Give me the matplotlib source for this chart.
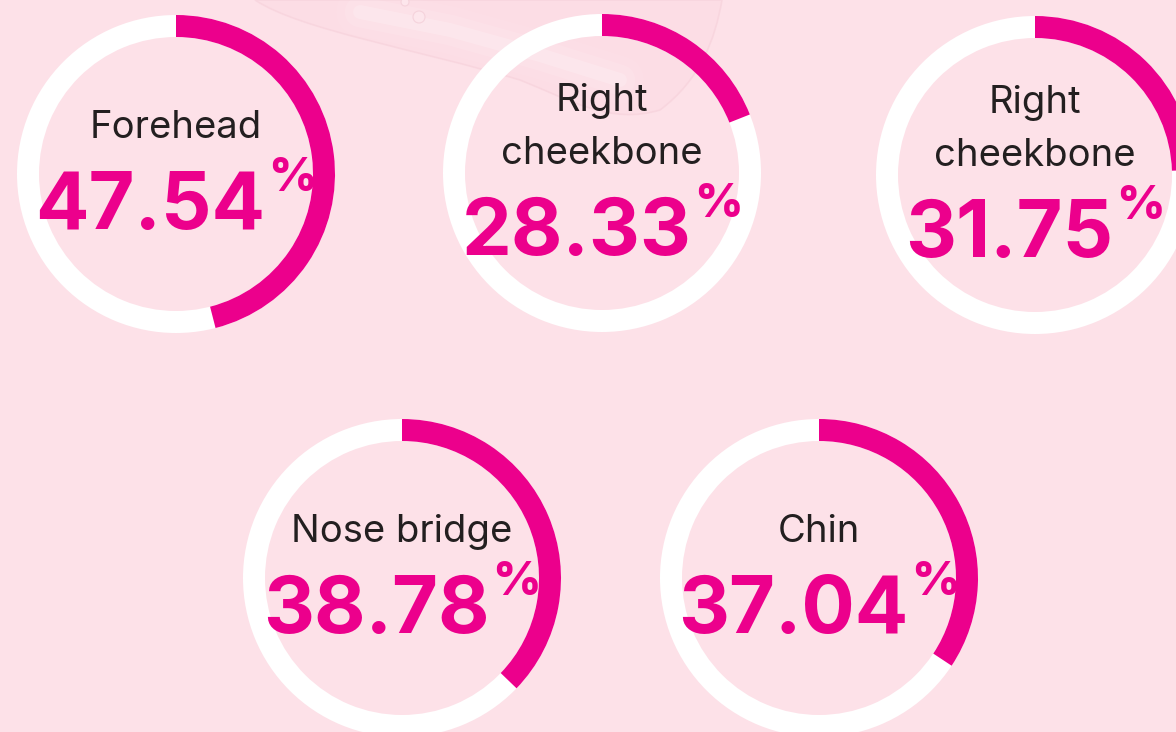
#!/usr/bin/env python3
''' Skin zone ring gauges
'''

import numpy as np
import matplotlib
matplotlib.use('Agg')
from matplotlib import pyplot
from matplotlib.patches import Wedge, Circle, PathPatch
from matplotlib.path import Path

#
# data
#

zones = ['Forehead', 'Right\ncheekbone', 'Right\ncheekbone', 'Nose bridge', 'Chin']
values = [47.54, 28.33, 31.75, 38.78, 37.04]
# share of each ring drawn in magenta
arc_share = [0.46, 0.19, 0.245, 0.372, 0.343]

#
# layout / style
#

centers = [(176, 174), (602, 173), (1035, 175), (402, 578), (819, 578)]
r_out = 159
ring_w = 22

bg = '#fde1e8'
magenta = '#ec008c'
dark = '#231f20'
font = ['Inter', 'DejaVu Sans']

fig = pyplot.figure(figsize=(11.76, 7.32), dpi=100)
fig.patch.set_facecolor(bg)
ax = fig.add_axes([0, 0, 1, 1])
ax.set_xlim(0, 1176)
ax.set_ylim(732, 0)
ax.set_facecolor(bg)
ax.axis('off')

# faint gel blob at top
verts = [(255, 0), (300, 30), (420, 50), (520, 80),
         (570, 100), (610, 125), (660, 110), (700, 80),
         (715, 40), (722, 0), (255, 0)]
codes = [Path.MOVETO, Path.CURVE4, Path.CURVE4, Path.CURVE4,
         Path.CURVE4, Path.CURVE4, Path.CURVE4, Path.CURVE4,
         Path.CURVE4, Path.CURVE4, Path.CLOSEPOLY]
ax.add_patch(PathPatch(Path(verts, codes), facecolor='#fcdbe3', edgecolor='#f6d0da',
                       lw=1.2, alpha=0.6, zorder=0))
for lw, a in [(34, 0.06), (22, 0.1), (10, 0.18)]:
    ax.plot([360, 450, 540, 620], [12, 30, 55, 80], color='white', lw=lw, alpha=a,
            solid_capstyle='round', zorder=0)
for bx, by, br in [(405, 2, 4), (419, 17, 6)]:
    ax.add_patch(Circle((bx, by), br, facecolor='#fde6ec', edgecolor='#f5d3dc',
                        lw=0.8, zorder=0))

# rings
for (cx, cy), share in zip(centers, arc_share):
    ax.add_patch(Wedge((cx, cy), r_out, 0, 360, width=ring_w,
                       facecolor='white', edgecolor='none', zorder=1))
    ax.add_patch(Wedge((cx, cy), r_out, -90, -90 + share * 360, width=ring_w,
                       facecolor=magenta, edgecolor='none', zorder=2))

# texts
fig.canvas.draw()
renderer = fig.canvas.get_renderer()
for (cx, cy), zone, val in zip(centers, zones, values):
    lines = zone.split('\n')
    if len(lines) == 1:
        base_lbl = [cy - 36]
        base_num = cy + 55
    else:
        base_lbl = [cy - 62, cy - 9]
        base_num = cy + 82
    for ln, yb in zip(lines, base_lbl):
        ax.text(cx, yb, ln, ha='center', va='baseline', color=dark,
                fontsize=27.5, family=font, zorder=3)
    tn = ax.text(0, base_num, '{:.2f}'.format(val), ha='left', va='baseline',
                 color=magenta, fontsize=57, fontweight='bold', family=font, zorder=3)
    tp = ax.text(0, base_num - 38, '%', ha='left', va='baseline',
                 color=magenta, fontsize=34, fontweight='heavy', family=font, zorder=3)
    wn = tn.get_window_extent(renderer).width
    wp = tp.get_window_extent(renderer).width
    gap = 3
    x0 = cx - (wn + gap + wp) / 2
    tn.set_x(x0)
    tp.set_x(x0 + wn + gap)

fig.savefig('out.png', dpi=100, facecolor=bg)
